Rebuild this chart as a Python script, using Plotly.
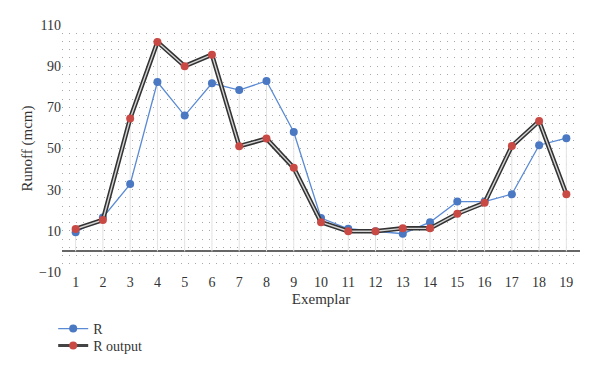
import plotly.graph_objects as go

exemplars = [str(i) for i in range(1, 20)]
r_values = [9.3, 16.5, 32.7, 82.3, 66.0, 81.7, 78.4, 82.8, 58.0, 16.2, 11.0, 9.8, 8.6, 14.2, 24.2, 24.2, 27.8, 51.6, 55.0]
r_output = [10.9, 15.3, 64.6, 101.8, 90.0, 95.6, 51.1, 54.8, 40.6, 14.2, 9.8, 9.8, 11.2, 11.2, 18.3, 23.6, 51.2, 63.3, 27.8]

font_family = "Liberation Serif"

fig = go.Figure()

# drop lines from the higher point down to zero
dx, dy = [], []
for c, a, b in zip(exemplars, r_values, r_output):
    dx += [c, c, None]
    dy += [max(a, b), 0, None]
fig.add_trace(go.Scatter(x=dx, y=dy, mode="lines", line=dict(color="#e2e2e2", width=1),
                         showlegend=False, hoverinfo="skip"))

fig.add_trace(go.Scatter(x=exemplars, y=r_values, mode="lines+markers", name="R",
                         line=dict(color="#5a8ad4", width=1.3),
                         marker=dict(color="#4a78c2", size=8), legend="legend"))

fig.add_trace(go.Scatter(x=exemplars, y=r_output, mode="lines", showlegend=False,
                         line=dict(color="#333333", width=4.5), hoverinfo="skip"))
fig.add_trace(go.Scatter(x=exemplars, y=r_output, mode="lines+markers", name="R output",
                         line=dict(color="#d4d4d4", width=1.4),
                         marker=dict(color="#c94a45", size=8), showlegend=False))
# legend entry
fig.add_trace(go.Scatter(x=[None], y=[None], mode="lines+markers", name="R output",
                         line=dict(color="#444444", width=3),
                         marker=dict(color="#c94a45", size=8), legend="legend2"))

leg_common = dict(xanchor="left", yanchor="top",
                  font=dict(family=font_family, size=14, color="#333"),
                  bgcolor="rgba(0,0,0,0)", itemwidth=30)

fig.update_layout(
    width=600, height=372,
    margin=dict(l=54, r=28, t=17, b=108),
    paper_bgcolor="white", plot_bgcolor="white",
    font=dict(family=font_family, size=14, color="#333"),
    legend=dict(x=-0.017, y=-0.166, **leg_common),
    legend2=dict(x=-0.017, y=-0.234, **leg_common),
    showlegend=True,
)
fig.update_xaxes(type="category", range=[-0.5, 18.5], showgrid=False, showline=False,
                 automargin=False,
                 ticks="", title=dict(text="Exemplar", font=dict(size=15), standoff=4),
                 tickfont=dict(size=14))
fig.update_yaxes(range=[-10, 110], tick0=-10, dtick=20, showline=False, ticks="",
                 automargin=False,
                 showgrid=True, gridcolor="#a8a8a8", gridwidth=1, griddash="1px,6px",
                 minor=dict(dtick=4, tick0=-10, showgrid=True, gridcolor="#a8a8a8",
                            gridwidth=1, griddash="1px,6px"),
                 zeroline=True, zerolinecolor="#666", zerolinewidth=1.5,
                 title=dict(text="Runoff (mcm)", font=dict(size=15), standoff=2),
                 tickfont=dict(size=14))

fig.write_html("out.html")
